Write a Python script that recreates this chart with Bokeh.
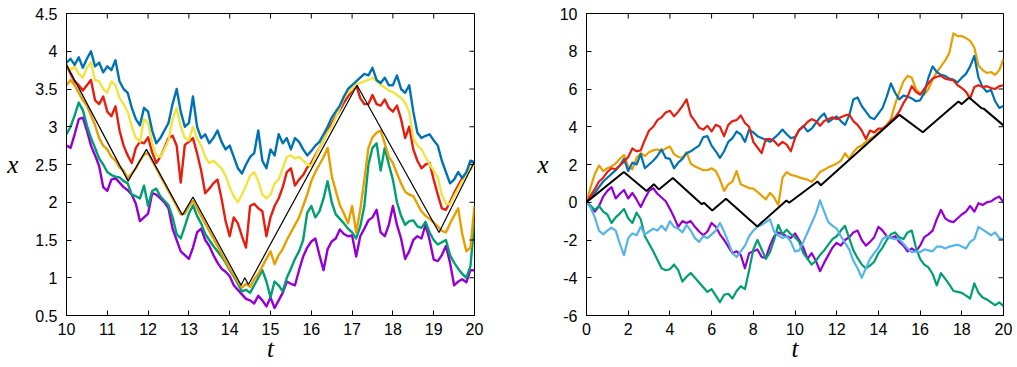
import numpy as np
from bokeh.plotting import figure
from bokeh.layouts import row
from bokeh.models import FixedTicker
from bokeh.embed import file_html
from bokeh.resources import INLINE

# ---------------- left panel (t from 10 to 20, step 0.1) ----------------
left_t0, left_dt = 10.0, 0.1
left_blue = [
    3.85, 3.9, 3.82, 3.92, 3.78, 3.9, 4.0, 3.8, 3.85, 3.72,
    3.8, 3.75, 3.88, 3.6, 3.5, 3.45, 3.25, 3.1, 3.02, 3.25,
    3.2, 2.95, 2.78, 2.85, 2.95, 3.05, 3.3, 3.5, 3.2, 3.0,
    3.05, 3.4, 3.0, 2.85, 2.9, 2.78, 2.85, 2.95, 2.8, 2.7,
    2.75, 2.6, 2.45, 2.38, 2.5, 2.6, 2.65, 2.95, 2.55, 2.45,
    2.7, 2.62, 2.9, 2.78, 2.85, 2.7, 2.85, 2.8, 2.7, 2.62,
    2.68, 2.75, 2.8, 2.9, 3.0, 3.12, 3.2, 3.28, 3.4, 3.5,
    3.55, 3.6, 3.65, 3.7, 3.68, 3.78, 3.62, 3.58, 3.65, 3.55,
    3.55, 3.68, 3.5, 3.45, 3.55, 3.2, 2.92, 2.85, 2.88, 2.9,
    2.82, 2.75, 2.55, 2.4, 2.25, 2.3, 2.4, 2.32, 2.4, 2.55,
    2.53]
left_yellow = [
    3.82, 3.75, 3.8, 3.7, 3.65, 3.78, 3.85, 3.62, 3.6, 3.5,
    3.45, 3.6, 3.55, 3.38, 3.3, 3.2, 3.0, 2.85, 2.8, 3.1,
    3.05, 2.78, 2.62, 2.6, 2.7, 2.82, 3.1, 3.25, 3.0, 2.85,
    2.82, 3.0, 2.85, 2.75, 2.6, 2.52, 2.55, 2.5, 2.45, 2.35,
    2.2, 2.08, 2.0, 2.1, 2.22, 2.35, 2.4, 2.28, 2.1, 2.05,
    2.1, 2.25, 2.3, 2.45, 2.6, 2.62, 2.58, 2.6, 2.55, 2.5,
    2.48, 2.6, 2.72, 2.82, 2.92, 3.0, 3.12, 3.25, 3.38, 3.45,
    3.5, 3.56, 3.58, 3.6, 3.62, 3.65, 3.6, 3.56, 3.52, 3.48,
    3.46, 3.42, 3.38, 3.32, 3.2, 2.85, 2.75, 2.7, 2.6, 2.5,
    2.42, 2.33, 2.1, 1.98, 1.97, 2.08, 2.18, 2.28, 2.35, 2.45,
    2.5]
left_red = [
    3.82, 3.7, 3.6, 3.55, 3.48, 3.55, 3.62, 3.35, 3.3, 3.4,
    3.2, 3.14, 3.27, 2.95, 2.75, 2.62, 2.52, 2.72, 2.8, 2.78,
    2.86, 2.66, 2.52, 2.6, 2.72, 2.85, 2.88, 2.75, 2.26, 2.76,
    2.8, 2.85, 2.65, 2.42, 2.12, 2.18, 2.25, 2.3, 2.05, 1.75,
    1.55, 1.8, 1.72, 1.55, 1.4, 1.95, 1.98, 1.92, 1.88, 1.55,
    1.8, 1.95, 2.05, 2.2, 2.4, 2.45, 2.22, 2.3, 2.36, 2.46,
    2.52, 2.62, 2.72, 2.82, 2.94, 3.04, 3.14, 3.22, 3.32, 3.4,
    3.48, 3.55, 3.38, 3.3, 3.3, 3.42, 3.3, 3.28, 3.36, 3.25,
    3.2, 3.28, 3.1, 2.85, 3.0, 2.7, 2.55, 2.45, 2.5, 2.52,
    2.3, 2.1, 1.92, 1.9, 2.0, 2.12, 2.22, 2.32, 2.38, 2.44,
    2.52]
left_orange = [
    3.55, 3.62, 3.55, 3.45, 3.35, 3.28, 3.15, 3.02, 2.85, 2.75,
    2.7, 2.6, 2.55, 2.46, 2.42, 2.32, 2.38, 2.45, 2.55, 2.63,
    2.65, 2.55, 2.45, 2.35, 2.25, 2.15, 2.05, 1.95, 1.84, 1.85,
    1.95, 2.02, 1.92, 1.82, 1.72, 1.62, 1.52, 1.42, 1.32, 1.22,
    1.12, 1.04, 0.95, 0.87, 0.92, 0.88, 0.98, 1.05, 1.15, 1.25,
    1.35, 1.18, 1.3, 1.38, 1.5, 1.6, 1.7, 1.8, 1.95, 2.1,
    2.28, 2.4, 2.5, 2.6, 2.72, 2.35, 2.15, 1.96, 1.85, 1.72,
    1.95, 1.6, 1.9, 2.3, 2.72, 2.86, 2.92, 2.95, 2.78, 2.6,
    2.52, 2.38, 2.25, 2.14, 2.1, 2.08, 1.98, 1.88, 1.82, 1.78,
    1.73, 1.68, 1.62, 1.6, 1.72, 1.82, 1.92, 1.58, 1.35, 1.4,
    1.95]
left_green = [
    2.9, 3.0, 3.15, 3.32, 3.22, 3.02, 2.85, 2.72, 2.58, 2.5,
    2.4, 2.36, 2.34, 2.33, 2.28, 2.25, 2.1, 2.08, 2.05, 2.22,
    1.95, 2.15, 2.18, 2.08, 2.02, 1.96, 1.8, 1.58, 1.52, 1.68,
    1.85, 1.96, 1.82, 1.72, 1.58, 1.5, 1.42, 1.35, 1.28, 1.2,
    1.1, 1.02, 0.92, 0.82, 0.84, 0.8, 0.9, 1.0, 1.1, 0.95,
    0.74, 0.95, 0.9, 0.82, 1.0, 1.12, 1.25, 1.35, 1.5, 1.86,
    1.95, 1.8, 1.88, 2.05, 2.28, 2.0, 1.84, 1.78, 1.72, 1.65,
    1.6, 1.52, 1.68, 1.95, 2.5, 2.72, 2.78, 2.42, 2.72, 2.5,
    2.3, 2.0, 1.82, 1.7, 1.75, 1.76, 1.68, 1.66, 1.74, 1.6,
    1.5, 1.44, 1.47, 1.5, 1.3, 1.2, 1.12, 1.05, 1.0, 1.15,
    1.75]
left_purple = [
    2.75, 2.72, 2.9, 3.1, 3.12, 2.95, 2.75, 2.62, 2.48, 2.2,
    2.15, 2.3, 2.32, 2.26, 2.2, 2.16, 2.1, 1.98, 1.75, 1.8,
    1.85, 2.12, 2.1, 2.05, 2.0, 1.92, 1.65, 1.5, 1.35, 1.3,
    1.25, 1.4, 1.6, 1.65, 1.5, 1.42, 1.3, 1.2, 1.12, 1.08,
    1.02, 0.9, 0.84, 0.78, 0.72, 0.7, 0.66, 0.76, 0.7, 0.62,
    0.74, 0.6, 0.7, 0.8, 0.95, 0.92, 0.9, 1.1, 1.28, 1.4,
    1.48, 1.52, 1.3, 1.1, 1.38, 1.48, 1.52, 1.64, 1.58, 1.55,
    1.56, 1.28, 1.55, 1.65, 1.76, 1.8, 1.9, 1.6, 1.55, 1.7,
    1.95, 1.7, 1.52, 1.25, 1.35, 1.5, 1.55, 1.52, 1.7, 1.5,
    1.24, 1.22, 1.3, 1.42, 1.2, 0.9, 0.95, 0.98, 0.94, 1.1,
    1.1]
left_black_t = [10.0, 11.51, 11.96, 12.84, 13.10, 14.28, 14.37, 14.46, 17.12, 19.13, 20.0]
left_black_x = [3.82, 2.28, 2.70, 1.83, 2.07, 0.90, 1.00, 0.91, 3.55, 1.60, 2.54]

left_xticks = [10, 11, 12, 13, 14, 15, 16, 17, 18, 19, 20]
left_xlabels = ["10", "11", "12", "13", "14", "15", "16", "17", "18", "19", "20"]
left_yticks = [0.5, 1, 1.5, 2, 2.5, 3, 3.5, 4, 4.5]
left_ylabels = ["0.5", "1", "1.5", "2", "2.5", "3", "3.5", "4", "4.5"]

# ---------------- right panel (t from 0 to 20, step 0.2) ----------------
right_t0, right_dt = 0.0, 0.2
right_red = [
    0.0, 0.35, 0.7, 1.1, 1.3,
    1.6, 1.8, 1.75, 1.95, 2.15,
    2.4, 2.85, 2.7, 2.75, 3.3,
    3.8, 4.0, 4.35, 4.5, 4.75,
    4.85, 4.55, 4.8, 5.1, 5.45,
    4.6, 4.3, 3.95, 3.85, 4.05,
    3.75, 4.1, 4.0, 3.5, 4.1,
    4.3, 4.35, 4.6, 4.2, 4.0,
    3.2, 2.9, 2.6, 3.35, 3.35,
    3.25, 3.0, 3.2, 3.05, 2.7,
    3.4, 3.85, 4.0, 4.25, 4.4,
    4.3, 4.05, 4.3, 4.4, 4.5,
    4.4, 4.5, 4.6, 4.65, 4.3,
    4.1, 3.8, 3.35, 3.8, 3.7,
    3.9, 3.9, 4.05, 4.3, 4.5,
    4.8, 5.25, 5.6, 6.15, 5.85,
    5.7, 6.0, 6.3, 6.55, 6.65,
    6.7, 6.55, 6.5, 6.45, 6.2,
    6.05, 5.85, 5.5, 6.1, 6.2,
    6.1, 6.15, 6.05, 6.0, 6.15,
    6.2]
right_blue = [
    0.0, 0.25, 0.5, 0.8, 1.1,
    1.3, 1.5, 1.7, 1.95, 2.3,
    1.65, 2.1, 2.0, 2.55, 1.8,
    2.0, 2.2, 2.45, 2.8, 2.35,
    2.3, 1.8, 2.1, 2.3, 2.6,
    2.7, 2.85, 3.0, 3.45, 3.5,
    3.0, 2.7, 2.35, 2.7, 3.2,
    3.4, 3.75, 3.6, 3.2, 3.85,
    3.7, 3.5, 3.4, 3.3, 3.2,
    3.4, 3.6, 3.85, 3.6, 3.4,
    3.45, 3.8, 4.05, 3.75, 3.9,
    4.2, 4.5, 4.7, 4.25, 4.4,
    4.55, 4.3, 4.1, 4.6, 5.45,
    5.55, 5.1, 4.8, 4.5, 4.4,
    4.7, 5.0, 5.6, 6.3, 5.8,
    5.45, 5.65, 5.6, 5.5, 5.35,
    5.4, 5.8, 6.6, 7.2, 6.9,
    6.75, 6.7, 6.55, 6.5, 6.35,
    6.6, 6.8, 7.2, 7.75, 6.6,
    6.1, 5.85, 5.95, 5.35, 5.0,
    5.1]
right_orange = [
    0.0, 0.8, 1.5, 1.95, 1.65,
    1.8, 1.9, 2.05, 2.3, 2.5,
    1.9, 1.75, 2.35, 2.6, 2.45,
    2.65, 2.75, 2.8, 2.7, 2.85,
    2.95, 2.55, 2.4, 2.35, 2.65,
    2.05, 1.9, 1.8, 1.7, 1.7,
    1.8, 1.65, 1.2, 0.6, 0.95,
    1.1, 1.65, 0.95, 0.85, 0.75,
    0.72, 0.55, 0.35, 0.15, 0.5,
    0.25, -0.15, 1.3, 1.6, 1.45,
    1.4, 1.32, 1.25, 1.2, 1.08,
    1.3, 1.6, 1.72, 1.85, 1.95,
    2.05, 2.2, 2.6, 2.3, 2.65,
    2.9, 3.0, 3.2, 3.35, 3.5,
    3.7, 3.88, 4.1, 4.4, 5.2,
    5.82, 6.4, 6.7, 6.6, 6.0,
    5.75, 5.7, 6.0, 6.5, 6.9,
    7.2, 7.5, 7.9, 8.95, 8.8,
    8.8, 8.7, 8.55, 8.2, 7.25,
    7.0, 6.85, 6.9, 6.75, 7.0,
    7.6]
right_purple = [
    0.0, -0.2, -0.5, -0.2, 0.3,
    0.6, 0.8, 0.2, 0.45, 0.65,
    0.2, 0.5, 0.15, -0.25, 0.2,
    0.6, 0.75, 0.45, 0.25, 0.05,
    -0.35, -0.8, -1.3, -1.0, -1.1,
    -1.0, -1.3, -1.55, -1.75, -1.55,
    -1.1, -1.3, -1.7, -2.0, -2.35,
    -2.7, -2.6, -2.8, -3.5, -2.7,
    -2.6, -2.5, -2.9, -2.95, -2.3,
    -1.8, -1.6, -1.7, -1.8, -1.9,
    -1.65, -2.0, -2.4, -3.0, -2.7,
    -3.1, -3.65, -3.2, -2.8, -2.4,
    -2.15, -2.3, -2.0, -1.85, -1.6,
    -1.5, -2.0, -2.3, -2.1, -1.85,
    -1.3, -1.5, -1.8, -1.9, -1.8,
    -2.1, -2.3, -2.6, -2.45, -2.6,
    -2.3, -1.85, -1.7, -1.5, -0.9,
    -0.4, -0.85, -1.0, -1.05, -0.85,
    -0.65, -0.5, -0.2, -0.5, -0.05,
    -0.15, 0.0, 0.05, 0.2, 0.3,
    0.0]
right_lightblue = [
    0.0, -0.3, -0.8, -1.5, -1.7,
    -1.5, -1.35, -1.5, -2.2, -2.8,
    -1.9, -1.65, -1.75, -1.3, -1.7,
    -1.55, -1.4, -1.5, -1.25, -1.5,
    -1.0, -1.3, -1.4, -1.6, -1.2,
    -1.5, -1.9, -2.1, -1.8, -1.9,
    -1.7, -1.5, -1.1, -1.55, -2.1,
    -2.7, -2.9, -2.6, -2.3, -1.8,
    -1.5, -1.3, -1.2, -1.05, -0.9,
    -1.55, -1.75, -1.9, -1.8, -2.1,
    -2.6, -2.55, -2.1, -1.6, -1.1,
    -0.6, 0.1, -0.5, -1.05, -1.25,
    -1.4, -1.8, -2.15, -2.5, -3.1,
    -3.5, -4.0, -3.5, -3.0, -2.7,
    -2.4, -1.95, -1.8, -1.9, -1.95,
    -1.95, -2.2, -2.45, -2.65, -2.6,
    -2.65, -2.5, -2.55, -2.6, -2.35,
    -2.35, -2.45, -2.35, -2.3, -2.25,
    -2.35, -2.45, -2.1, -1.95, -1.3,
    -1.45, -1.6, -1.75, -1.6, -1.9,
    -1.95]
right_green = [
    0.0, -0.2, -0.4, -0.2, -0.5,
    -0.65, -1.1, -0.8, -0.6, -0.35,
    -0.85, -1.1, -0.55, -0.9, -1.8,
    -2.2, -2.6, -3.05, -3.5, -3.6,
    -3.55, -3.3, -3.6, -4.2, -3.95,
    -3.75, -4.0, -4.25, -4.5, -4.75,
    -4.6, -4.95, -5.3, -4.9, -4.85,
    -5.1, -4.7, -4.45, -4.6, -3.6,
    -2.5, -2.0, -2.5, -3.0, -2.65,
    -2.0, -1.2, -1.7, -1.45, -1.7,
    -1.85, -2.1, -2.7, -3.0, -3.3,
    -3.1, -2.8, -2.55, -2.25, -1.95,
    -1.8, -1.5, -1.25, -1.9, -2.55,
    -2.95, -3.3, -3.5, -3.35, -3.15,
    -2.7, -2.4, -2.0, -1.7, -1.6,
    -1.85, -1.95, -1.6, -1.5, -2.4,
    -3.0, -3.3, -3.45, -3.8, -4.4,
    -3.75, -4.05, -4.35, -4.7, -4.75,
    -4.8, -4.95, -5.1, -4.3, -4.8,
    -5.05, -5.15, -5.3, -5.45, -5.3,
    -5.5]
right_black_t = [0.0, 1.79, 2.88, 3.23, 3.47, 4.14, 5.53, 5.63, 6.03, 6.69, 8.19, 9.59, 9.72,
                 11.08, 11.24, 15.01, 16.13, 17.84, 18.0, 18.35, 18.95, 19.05, 20.0]
right_black_x = [0.0, 1.6, 0.6, 0.95, 0.68, 1.28, -0.1, -0.03, -0.44, 0.18, -1.28, 0.09, -0.03,
                 1.1, 0.9, 4.63, 3.71, 5.34, 5.2, 5.55, 4.98, 4.96, 4.07]

right_xticks = [0, 2, 4, 6, 8, 10, 12, 14, 16, 18, 20]
right_xlabels = ["0", "2", "4", "6", "8", "10", "12", "14", "16", "18", "20"]
right_yticks = [-6, -4, -2, 0, 2, 4, 6, 8, 10]
right_ylabels = ["-6", "-4", "-2", "0", "2", "4", "6", "8", "10"]

# gnuplot default palette
C_PURPLE = "#9400d3"
C_GREEN = "#009e73"
C_LBLUE = "#56b4e9"
C_ORANGE = "#e69f00"
C_YELLOW = "#f0e442"
C_BLUE = "#0072b2"
C_RED = "#e51e10"

TICK_LEN = 5


def tgrid(t0, dt, vals):
    return [round(t0 + dt * i, 2) for i in range(len(vals))]


def style(p, xr, yr, xticks, xlabels, yticks, ylabels, ylab_standoff):
    p.xgrid.visible = False
    p.ygrid.visible = False
    p.outline_line_color = "black"
    p.outline_line_width = 1
    p.background_fill_color = "white"
    p.border_fill_color = "white"
    bx = p.below[0]
    ly = p.left[0]
    bx.ticker = FixedTicker(ticks=xticks)
    ly.ticker = FixedTicker(ticks=yticks)
    for ax in (bx, ly):
        ax.major_tick_in = TICK_LEN
        ax.major_tick_out = 0
        ax.minor_tick_in = 0
        ax.minor_tick_out = 0
        ax.axis_line_color = "black"
        ax.major_tick_line_color = "black"
        ax.major_label_text_color = "black"
        ax.major_label_text_font = "Liberation Sans"
        ax.major_label_text_font_size = "16px"
        ax.axis_label_text_font = "Liberation Serif"
        ax.axis_label_text_font_style = "italic"
        ax.axis_label_text_font_size = "25px"
        ax.axis_label_text_color = "black"
    bx.major_label_overrides = {v: s for v, s in zip(xticks, xlabels)}
    bx.major_label_standoff = 7
    bx.axis_label_standoff = -3
    ly.major_label_overrides = {v: s for v, s in zip(yticks, ylabels)}
    ly.major_label_standoff = 9
    ly.axis_label_standoff = ylab_standoff
    ly.axis_label_orientation = "horizontal"
    # mirrored inward ticks on top and right borders
    p.ray(x=xticks, y=[yr[1]] * len(xticks), length=TICK_LEN, length_units="screen",
          angle=-np.pi / 2, line_color="black", line_width=1)
    p.ray(x=[xr[1]] * len(yticks), y=yticks, length=TICK_LEN, length_units="screen",
          angle=np.pi, line_color="black", line_width=1)


# page has no body margin with Bokeh's template: use the full 1017 x 367
# ---- left figure ----
L_XR, L_YR = (10, 20), (0.5, 4.5)
p1 = figure(width=510, height=367, x_range=L_XR, y_range=L_YR,
            output_backend="svg", toolbar_location=None, title=None,
            min_border_left=66, min_border_right=36, min_border_top=13, min_border_bottom=52,
            x_axis_label="t", y_axis_label="x")
for vals, col in [(left_purple, C_PURPLE), (left_green, C_GREEN), (left_orange, C_ORANGE),
                  (left_red, C_RED), (left_yellow, C_YELLOW), (left_blue, C_BLUE)]:
    p1.line(tgrid(left_t0, left_dt, vals), vals, line_color=col, line_width=2.4, line_join="round")
p1.line(left_black_t, left_black_x, line_color="black", line_width=1.2)
style(p1, L_XR, L_YR, left_xticks, left_xlabels, left_yticks, left_ylabels, 14)

# ---- right figure ----
R_XR, R_YR = (0, 20), (-6, 10)
p2 = figure(width=507, height=367, x_range=R_XR, y_range=R_YR,
            output_backend="svg", toolbar_location=None, title=None,
            min_border_left=76, min_border_right=14, min_border_top=13, min_border_bottom=52,
            x_axis_label="t", y_axis_label="x")
for vals, col in [(right_purple, C_PURPLE), (right_green, C_GREEN), (right_lightblue, C_LBLUE),
                  (right_orange, C_ORANGE), (right_blue, C_BLUE), (right_red, C_RED)]:
    p2.line(tgrid(right_t0, right_dt, vals), vals, line_color=col, line_width=2.2, line_join="round")
p2.line(right_black_t, right_black_x, line_color="black", line_width=2)
style(p2, R_XR, R_YR, right_xticks, right_xlabels, right_yticks, right_ylabels, 8)

layout = row(p1, p2)
open("out.html", "w").write(file_html(layout, INLINE))
